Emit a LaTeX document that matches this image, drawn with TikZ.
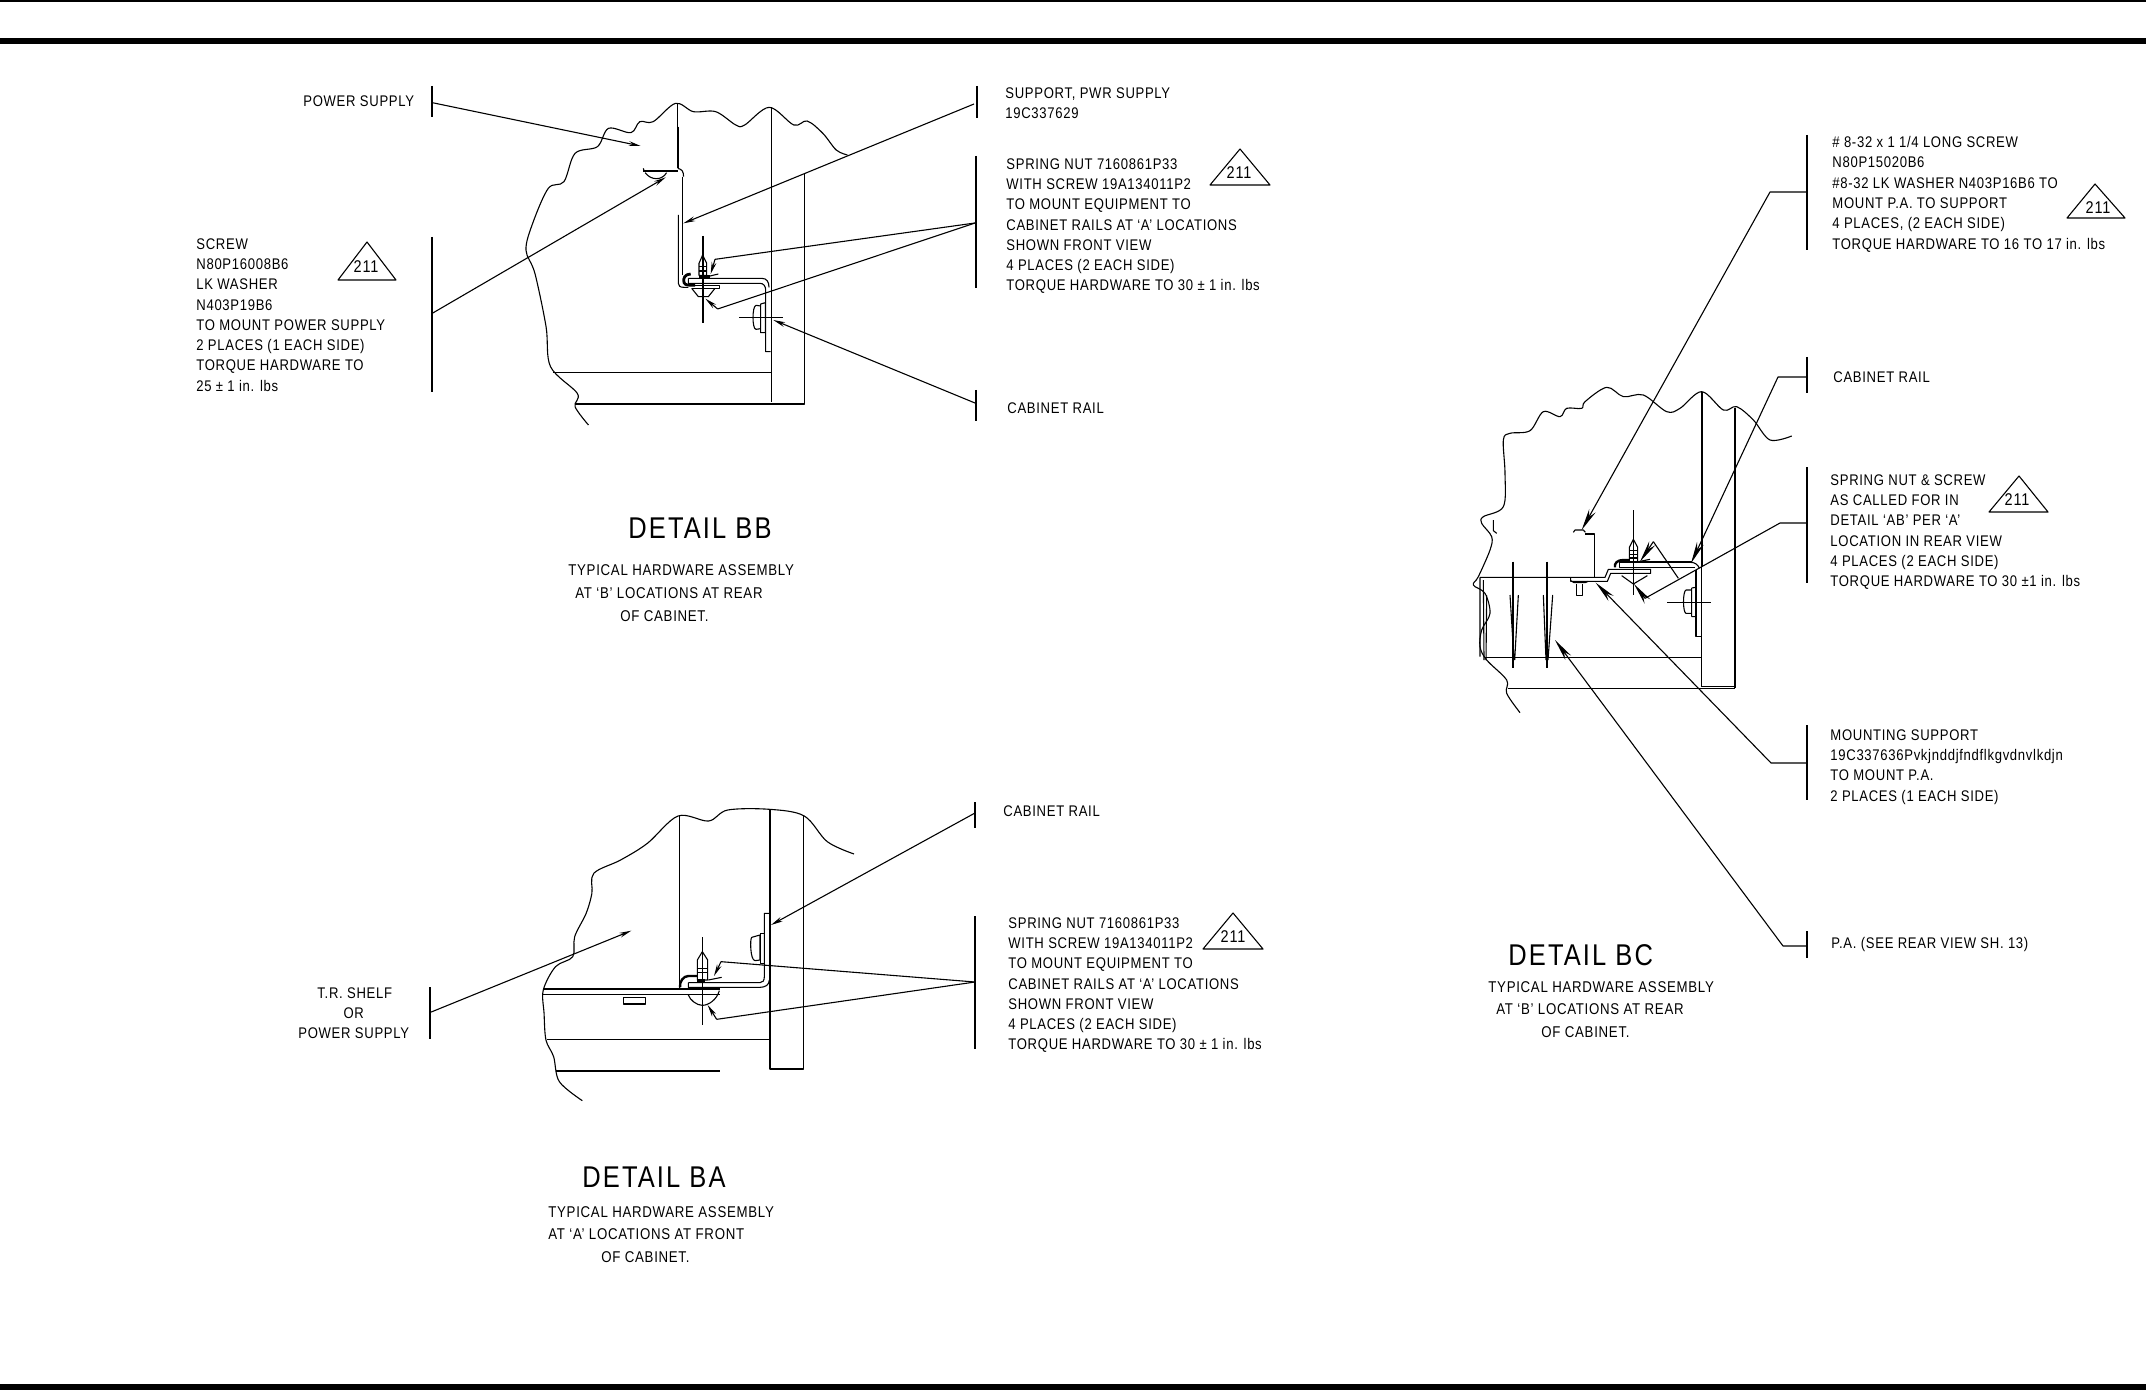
\documentclass[tikz,border=0pt]{standalone}
\usepackage{fontspec}
\usetikzlibrary{arrows.meta}
\newfontfamily\cad[FakeStretch=0.85,LetterSpace=4.5]{Liberation Sans}
\newfontfamily\cadbig[FakeStretch=0.85,LetterSpace=7]{Liberation Sans}
\newcommand{\lbar}[4][thin0]{\draw[#1] (#2,#3) -- (#2,#4);}
\tikzset{
  thin0/.style={line width=.55pt},
  thick0/.style={line width=.95pt},
  lead/.style={line width=.55pt,-{Stealth[length=6pt,width=2.4pt]}},
  leadbig/.style={line width=.55pt,-{Stealth[length=11pt,width=3.6pt]}},
  note/.style={inner sep=0pt,anchor=north west,align=left,font=\cad\fontsize{7.7pt}{10.15pt}\selectfont},
  sub/.style={inner sep=0pt,anchor=west,font=\cad\fontsize{7.8pt}{10pt}\selectfont},
  title/.style={inner sep=0pt,anchor=west,font=\cadbig\fontsize{15pt}{17pt}\selectfont},
  tri/.style={line width=.55pt},
  trilab/.style={inner sep=0pt,font=\cad\fontsize{8.5pt}{9pt}\selectfont},
  brk/.style={line width=.55pt,smooth,tension=.55}
}
\begin{document}
\begin{tikzpicture}[x=.5pt,y=-.5pt,line join=round]
\useasboundingbox (0,0) rectangle (2146,1390);
% frame rules
\fill (0,0) rectangle (2146,2);
\fill (0,38) rectangle (2146,44);
\fill (0,1384) rectangle (2146,1390);

%%%%%%%%%%%%%% DETAIL BB
\begin{scope}[xshift=90pt,yshift=-30pt,x=.2232pt,y=-.16667pt]
\draw[brk] plot coordinates {(915,1095)(885,1040)(890,1000)(830,920)(820,800)(795,640)(775,570)(790,490)(825,385)(860,365)(885,280)(935,260)(960,205)(1010,218)(1030,185)(1060,185)(1110,130)(1150,155)(1200,155)(1245,195)(1265,195)(1320,142)(1375,195)(1405,183)(1440,220)(1470,270)(1495,285)};
\draw[thin0] (1115,130) -- (1115,200);
\draw[thick0] (1115,200) -- (1115,325);
\draw[thin0] (1325,142) -- (1325,520);
\draw[thick0] (1325,520) -- (1325,1025);
\draw[thin0] (1398,340) -- (1398,1032) -- (885,1032);
\draw[thin0] (835,938) -- (1325,938);
\draw[thick0] (1038,332) -- (1115,332);
\draw[thin0] (1038,325) -- (1040,335);
\draw[thin0] (1042,338) .. controls (1055,362) and (1080,362) .. (1090,338);
\draw[thin0] (1115,325) .. controls (1125,328) and (1128,335) .. (1128,350);
\coordinate (bbScrewTip) at (1088,352);
\coordinate (bbPowerTip) at (1032,258);
\coordinate (bbPowerBar) at (565,128);
\coordinate (bbScrewBar) at (565,760);
\end{scope}
\begin{scope}[xshift=310pt,yshift=-100pt,x=.16667pt,y=-.16667pt]
\draw[thin0] (187,-70) -- (187,225);
\draw[thin0] (175,45) -- (175,250) .. controls (175,258) and (180,262) .. (192,262) -- (205,262);
\draw[thick0] (248,108) -- (248,368);
\draw[thin0] (237,190) -- (248,165) -- (260,190) -- (260,226) -- (237,226) -- cycle;
\draw[thin0] (237,200) -- (260,200) (237,213) -- (260,213);
\draw[line width=1.4pt] (212,222) .. controls (195,222) and (188,235) .. (192,248) .. controls (196,256) and (205,256) .. (225,256);
\draw[line width=1.4pt] (237,230) -- (270,230);
\draw[thin0] (205,235) -- (425,235) .. controls (440,235) and (447,245) .. (447,262);
\draw[thin0] (205,235) -- (205,250) -- (420,250) .. controls (430,250) and (437,258) .. (437,270) -- (437,455) -- (452,455);
\draw[thin0] (205,256) -- (298,256) -- (298,265) -- (215,265);
\draw[thin0] (215,265) -- (235,290) -- (265,290) -- (285,265);
\draw[thin0] (270,228) -- (295,222);
\draw[thin0] (358,352) -- (488,352);
\draw[thin0] (422,312) -- (436,308) -- (436,398) -- (422,398) -- cycle;
\draw[thin0] (422,318) -- (408,316) .. controls (396,318) and (396,388) .. (408,388) -- (422,386);
\coordinate (bbNutTip) at (272,222);
\coordinate (bbNutEl) at (285,178);
\coordinate (bbHeadTip) at (256,296);
\coordinate (bbHeadEl) at (293,327);
\coordinate (bbRailTip) at (460,360);
\coordinate (bbSuppTip) at (190,70);
\end{scope}
\coordinate (bbSuppBar) at (974,104);
\coordinate (bbNutBar) at (975,223);
\coordinate (bbRailBar) at (975,403);
\lbar{432}{86}{117}
\lbar[thick0]{432}{237}{392}
\lbar{977}{86}{118}
\lbar{976}{156}{198}
\lbar[thick0]{976}{198}{288}
\lbar{976}{390}{421}
\draw[lead] (bbPowerBar) -- (bbPowerTip);
\draw[lead] (bbScrewBar) -- (bbScrewTip);
\draw[lead] (bbSuppBar) -- (bbSuppTip);
\draw[lead,-] (bbNutBar) -- (bbNutEl);
\draw[lead] (bbNutEl) -- (bbNutTip);
\draw[lead,-] (bbNutBar) -- (bbHeadEl);
\draw[lead] (bbHeadEl) -- (bbHeadTip);
\draw[lead] (bbRailBar) -- (bbRailTip);
\node[note] (nPower) at (303,95) {POWER SUPPLY};
\node[note] (nScrew) at (196,238) {SCREW\\N80P16008B6\\LK WASHER\\N403P19B6\\TO MOUNT POWER SUPPLY\\2 PLACES (1 EACH SIDE)\\TORQUE HARDWARE TO\\25 ± 1 in. lbs};
\node[note] (nSupp) at (1005,87) {SUPPORT, PWR SUPPLY\\19C337629};
\node[note] (nNut) at (1006,158) {SPRING NUT 7160861P33\\WITH SCREW 19A134011P2\\TO MOUNT EQUIPMENT TO\\CABINET RAILS AT ‘A’ LOCATIONS\\SHOWN FRONT VIEW\\4 PLACES (2 EACH SIDE)\\TORQUE HARDWARE TO 30 ± 1 in. lbs};
\node[note] (nRail) at (1007,402) {CABINET RAIL};
\draw[tri] (367,242) -- (338,280) -- (396,280) -- cycle;
\node[trilab] (t1) at (366,267) {211};
\draw[tri] (1240,149) -- (1210,185) -- (1270,185) -- cycle;
\node[trilab] (t2) at (1239,173) {211};
\node[title] (tBB) at (628,528) {DETAIL BB};
\node[sub] (s1a) at (568,570) {TYPICAL HARDWARE ASSEMBLY};
\node[sub] (s1b) at (575,593) {AT ‘B’ LOCATIONS AT REAR};
\node[sub] (s1c) at (620,616) {OF CABINET.};

%%%%%%%%%%%%%% DETAIL BA
\begin{scope}[xshift=140pt,yshift=-390pt,x=.19135pt,y=-.16667pt]
\draw[brk] plot coordinates {(790,962)(730,905)(715,830)(695,780)(690,700)(688,630)(720,560)(765,530)(770,470)(800,400)(815,340)(820,280)(890,240)(960,190)(1040,108)(1120,123)(1170,90)(1280,88)(1370,108)(1430,185)(1500,222)};
\draw[thin0] (1043,108) -- (1043,625);
\draw[thick0] (1280,88) -- (1280,866) -- (1368,866) -- (1368,108);
\draw[line width=1.3pt] (688,627) -- (1150,627);
\draw[thin0] (688,643) -- (1150,643);
\draw[thin0] (697,778) -- (1280,778);
\draw[thin0] (720,873) -- (1150,873);
\draw[thin0] (898,652) rectangle (955,672);
\coordinate (baShelfTip) at (918,452);
\coordinate (baShelfBar) at (393,697);
\end{scope}
\begin{scope}[xshift=320pt,yshift=-450pt,x=.16667pt,y=-.16667pt]
\draw[thin0] (187,112) -- (187,375);
\draw[thin0] (172,180) -- (187,155) -- (203,180) -- (203,240) -- (172,240) -- cycle;
\draw[thin0] (172,205) -- (203,205) (172,218) -- (203,218);
\fill (172,238) rectangle (195,247);
\draw[thin0] (145,248) -- (360,248) .. controls (368,248) and (373,242) .. (373,230) -- (373,40) -- (388,40);
\draw[thin0] (145,248) -- (145,262) -- (360,262) .. controls (375,262) and (388,255) .. (388,240);
\draw[line width=1.2pt] (120,262) .. controls (118,245) and (130,228) .. (145,228) -- (172,228);
\draw[thin0] (205,240) -- (245,232);
\draw[thin0] (145,285) .. controls (150,300) and (170,316) .. (187,316) .. controls (205,316) and (230,300) .. (238,272);
\draw[thin0] (335,112) -- (360,105) -- (360,180) -- (345,182) .. controls (330,180) and (330,115) .. (335,112);
\draw[thin0] (362,100) rectangle (373,190);
\coordinate (baNutTip) at (222,228);
\coordinate (baNutEl) at (243,185);
\coordinate (baHeadTip) at (203,315);
\coordinate (baHeadEl) at (230,358);
\coordinate (baRailTip) at (393,75);
\end{scope}
\coordinate (baRailBar) at (975,813);
\coordinate (baNutBar) at (975,982);
\lbar{430}{987}{1039}
\lbar{975}{802}{828}
\lbar{975}{916}{1049}
\draw[lead] (baShelfBar) -- (baShelfTip);
\draw[lead] (baRailBar) -- (baRailTip);
\draw[lead,-] (baNutBar) -- (baNutEl);
\draw[lead] (baNutEl) -- (baNutTip);
\draw[lead,-] (baNutBar) -- (baHeadEl);
\draw[lead] (baHeadEl) -- (baHeadTip);
\node[note,align=center] (nShelf) at (298,987) {\hspace*{1pt}T.R. SHELF\\OR\\POWER SUPPLY};
\node[note] (nBaRail) at (1003,805) {CABINET RAIL};
\node[note] (nBaNut) at (1008,917) {SPRING NUT 7160861P33\\WITH SCREW 19A134011P2\\TO MOUNT EQUIPMENT TO\\CABINET RAILS AT ‘A’ LOCATIONS\\SHOWN FRONT VIEW\\4 PLACES (2 EACH SIDE)\\TORQUE HARDWARE TO 30 ± 1 in. lbs};
\draw[tri] (1233,913) -- (1203,949) -- (1263,949) -- cycle;
\node[trilab] (t3) at (1233,937) {211};
\node[title] (tBA) at (582,1177) {DETAIL BA};
\node[sub] (s2a) at (548,1212) {TYPICAL HARDWARE ASSEMBLY};
\node[sub] (s2b) at (548,1234) {AT ‘A’ LOCATIONS AT FRONT};
\node[sub] (s2c) at (601,1257) {OF CABINET.};

%%%%%%%%%%%%%% DETAIL BC
\begin{scope}[xshift=730pt,yshift=-170pt,x=.16667pt,y=-.16667pt]
\draw[brk] plot coordinates {(180,1118)(140,1060)(140,1020)(80,960)(60,920)(65,870)(90,820)(75,760)(40,735)(55,710)(90,630)(95,590)(65,550)(70,530)(130,500)(135,400)(130,300)(150,280)(210,272)(250,215)(300,230)(320,205)(365,205)(375,185)(440,142)(490,170)(550,165)(620,215)(660,205)(725,155)(790,210)(830,200)(880,240)(930,300)(995,288)};
\draw[thick0] (725,155) -- (725,680);
\draw[thin0] (725,680) -- (725,1040);
\draw[thin0] (825,205) -- (825,930);
\draw[thick0] (825,930) -- (825,1045);
\draw[thin0] (145,1045) -- (825,1045) (725,1040) -- (825,1040);
\draw[thin0] (75,952) -- (725,952);
\draw[thin0] (60,712) -- (60,950) (70,720) -- (72,960) (80,765) -- (78,960);
\draw[thin0] (100,540) -- (100,572) -- (110,580);
\draw[thick0] (160,665) -- (160,985) (260,665) -- (260,985);
\draw[thin0] (150,765) -- (162,960) (175,765) -- (164,960) (250,765) -- (258,960) (278,765) -- (264,960);
\draw[thin0] (340,577) -- (345,570) -- (370,570) -- (376,577);
\draw[thin0] (375,582) -- (403,582) -- (403,712);
\coordinate (bcScrewTip) at (365,570);
\coordinate (bcPaTip) at (285,900);
\end{scope}
\begin{scope}[xshift=780pt,yshift=-255pt,x=.16667pt,y=-.16667pt]
\draw[thin0] (-240,202) -- (135,202) -- (145,178) -- (272,178) -- (272,190) -- (152,190) -- (142,214) -- (32,214) -- (32,202);
\draw[thin0] (32,212) -- (42,218) -- (75,218) -- (85,214);
\draw[thin0] (50,222) -- (50,257) -- (68,257) -- (68,222);
\draw[thin0] (220,0) -- (220,255);
\draw[thin0] (208,112) -- (220,88) -- (233,112) -- (233,155) -- (208,155) -- cycle;
\draw[thin0] (208,122) -- (233,122) (208,133) -- (233,133) (208,144) -- (233,144);
\draw[line width=1.2pt] (165,172) .. controls (162,160) and (172,150) .. (190,150) -- (208,150);
\draw[thick0] (178,157) -- (395,157);
\draw[thin0] (178,157) -- (178,172) -- (405,172);
\draw[thin0] (395,157) .. controls (405,158) and (415,165) .. (418,175);
\draw[thin0] (408,180) -- (408,380) -- (423,380);
\draw[thin0] (185,197) -- (220,222) -- (262,197);
\draw[thin0] (322,277) -- (452,277);
\draw[thin0] (395,234) -- (408,232) (395,320) -- (408,320) (395,234) -- (395,320);
\draw[thin0] (395,240) -- (378,240) .. controls (368,242) and (368,308) .. (378,310) -- (395,310);
\draw[thin0] (235,155) -- (270,148);
\coordinate (bcRailTip) at (393,160);
\coordinate (bcSupTip) at (107,218);
\coordinate (bcNut1Tip) at (240,155);
\coordinate (bcNutEl1) at (280,95);
\coordinate (bcNutJ) at (355,205);
\coordinate (bcHeadEl) at (255,265);
\coordinate (bcHeadTip) at (222,222);
\end{scope}
\coordinate (bcScrewEl) at (1770,192);
\coordinate (bcScrewBar) at (1807,192);
\coordinate (bcRailEl) at (1778,377);
\coordinate (bcRailBar) at (1807,377);
\coordinate (bcNutEl) at (1780,523);
\coordinate (bcNutBar) at (1807,523);
\coordinate (bcSupEl) at (1771,763);
\coordinate (bcSupBar) at (1807,763);
\coordinate (bcPaEl) at (1783,946);
\coordinate (bcPaBar) at (1807,946);
\lbar{1807}{135}{250}
\lbar{1807}{357}{393}
\lbar[thick0]{1807}{467}{583}
\lbar[thick0]{1807}{725}{800}
\lbar[thick0]{1807}{931}{958}
\draw[leadbig] (bcScrewBar) -- (bcScrewEl) -- (bcScrewTip);
\draw[leadbig] (bcRailBar) -- (bcRailEl) -- (bcRailTip);
\draw[lead,-] (bcNutBar) -- (bcNutEl) -- (bcHeadEl);
\draw[leadbig] (bcHeadEl) -- (bcHeadTip);
\draw[lead,-] (bcNutJ) -- (bcNutEl1);
\draw[leadbig] (bcNutEl1) -- (bcNut1Tip);
\draw[leadbig] (bcSupBar) -- (bcSupEl) -- (bcSupTip);
\draw[leadbig] (bcPaBar) -- (bcPaEl) -- (bcPaTip);
\node[note] (nBcScrew) at (1832,136) {\# 8-32 x 1 1/4 LONG SCREW\\N80P15020B6\\\#8-32 LK WASHER N403P16B6 TO\\MOUNT P.A. TO SUPPORT\\4 PLACES, (2 EACH SIDE)\\TORQUE HARDWARE TO 16 TO 17 in. lbs};
\node[note] (nBcRail) at (1833,371) {CABINET RAIL};
\node[note] (nBcNut) at (1830,474) {SPRING NUT \& SCREW\\AS CALLED FOR IN\\DETAIL ‘AB’ PER ‘A’\\LOCATION IN REAR VIEW\\4 PLACES (2 EACH SIDE)\\TORQUE HARDWARE TO 30 ±1 in. lbs};
\node[note] (nBcSup) at (1830,729) {MOUNTING SUPPORT\\19C337636Pvkjnddjfndflkgvdnvlkdjn\\TO MOUNT P.A.\\2 PLACES (1 EACH SIDE)};
\node[note] (nBcPa) at (1831,937) {P.A. (SEE REAR VIEW SH. 13)};
\draw[tri] (2095,184) -- (2067,218) -- (2125,218) -- cycle;
\node[trilab] (t4) at (2098,208) {211};
\draw[tri] (2019,476) -- (1989,512) -- (2048,512) -- cycle;
\node[trilab] (t5) at (2017,500) {211};
\node[title] (tBC) at (1508,955) {DETAIL BC};
\node[sub] (s3a) at (1488,987) {TYPICAL HARDWARE ASSEMBLY};
\node[sub] (s3b) at (1496,1009) {AT ‘B’ LOCATIONS AT REAR};
\node[sub] (s3c) at (1541,1032) {OF CABINET.};
\end{tikzpicture}
\end{document}
